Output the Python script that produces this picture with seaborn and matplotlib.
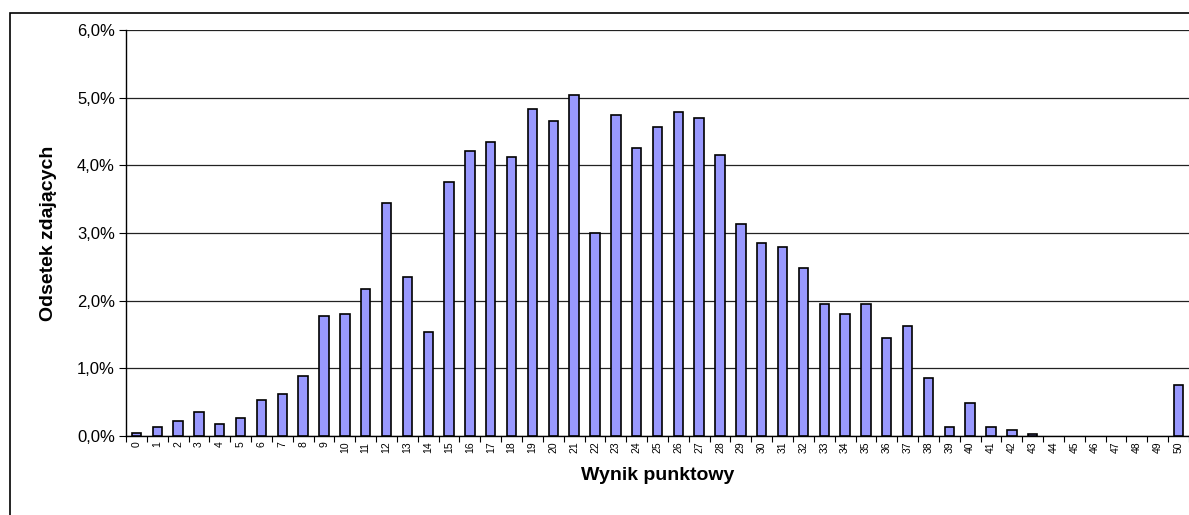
import numpy as np
import pandas as pd
import matplotlib
matplotlib.use('Agg')
import matplotlib.pyplot as plt
import seaborn as sns
from matplotlib.patches import Rectangle
from matplotlib.ticker import FuncFormatter, FixedLocator

# Score (points) and share of candidates in percent
scores = [str(i) for i in range(51)]
shares = [0.04, 0.13, 0.22, 0.35, 0.18, 0.27, 0.53, 0.62, 0.89, 1.77,
          1.81, 2.17, 3.44, 2.35, 1.54, 3.76, 4.21, 4.35, 4.12, 4.83,
          4.65, 5.04, 3.00, 4.74, 4.25, 4.57, 4.79, 4.70, 4.16, 3.13,
          2.85, 2.80, 2.48, 1.95, 1.81, 1.95, 1.45, 1.63, 0.85, 0.13,
          0.49, 0.13, 0.09, 0.03, 0.0, 0.0, 0.0, 0.0, 0.0, 0.0,
          0.76]
y_ticks = [0, 1, 2, 3, 4, 5, 6]

df = pd.DataFrame({'score': scores, 'share': shares})

sns.set_style('white')
plt.rcParams['font.family'] = ['Liberation Sans', 'DejaVu Sans']
plt.rcParams['text.color'] = 'black'
plt.rcParams['axes.labelcolor'] = 'black'
plt.rcParams['xtick.color'] = 'black'
plt.rcParams['ytick.color'] = 'black'

fig = plt.figure(figsize=(11.89, 5.15), dpi=100)
ax = fig.add_axes([126 / 1189, 1 - 436 / 515, 1 - 126 / 1189, (436 - 30) / 515])

sns.barplot(data=df, x='score', y='share', order=scores, color='#9999FF',
            saturation=1, width=0.45, edgecolor='black', linewidth=1.2, ax=ax, zorder=3)

# empty categories get no outline
for bar in ax.patches:
    if bar.get_height() == 0:
        bar.set_linewidth(0)

ax.set_ylim(0, 6)
ax.set_xlim(-0.5, len(scores) - 0.5)
ax.set_yticks(y_ticks)
ax.yaxis.set_major_formatter(FuncFormatter(lambda v, p: f'{v:.1f}%'.replace('.', ',')))
ax.yaxis.grid(True, color='#222222', linewidth=0.9)
ax.set_axisbelow(True)

# category boundaries as tick marks, labels in the middle
ax.xaxis.set_minor_locator(FixedLocator(np.arange(-0.5, len(scores), 1)))
ax.tick_params(axis='x', which='major', length=0, labelsize=7.5, labelrotation=90, pad=4)
ax.tick_params(axis='x', which='minor', length=4, width=0.8, color='black', direction='out', bottom=True)
ax.tick_params(axis='y', length=5, width=0.8, color='black', direction='out', left=True,
               labelsize=12, pad=3)

for s in ['top', 'right']:
    ax.spines[s].set_visible(False)
for s in ['left', 'bottom']:
    ax.spines[s].set_color('black')
    ax.spines[s].set_linewidth(1.0)

ax.set_xlabel('Wynik punktowy', fontsize=14, fontweight='bold', labelpad=10)
ax.set_ylabel('Odsetek zdających', fontsize=14, fontweight='bold', labelpad=14)

# outer chart frame
fig.patches.append(Rectangle((10 / 1189, -0.1), 1.2, 1 - 13 / 515 + 0.1,
                             transform=fig.transFigure, fill=False,
                             edgecolor='black', linewidth=1.2))

fig.savefig('out.png', dpi=100)
